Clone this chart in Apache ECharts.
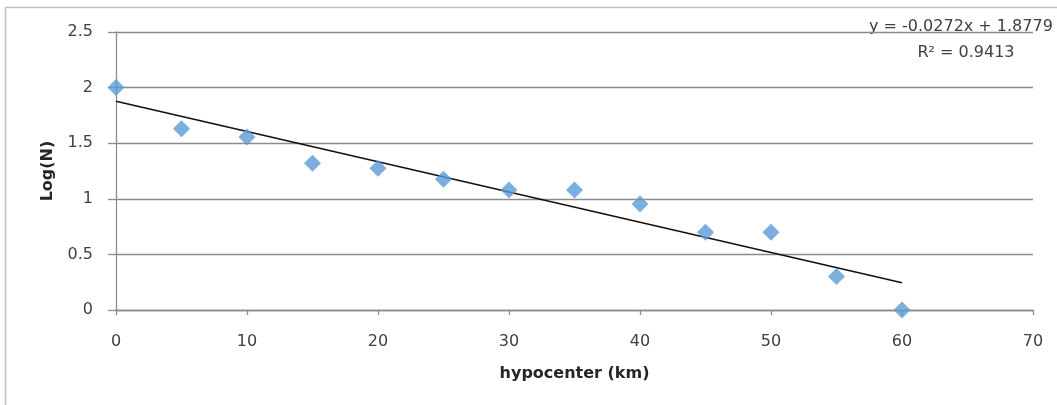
<!DOCTYPE html>
<html>
<head>
<meta charset="utf-8">
<script src="https://cdn.jsdelivr.net/npm/echarts@6/dist/echarts.min.js"></script>
<style>
html,body{margin:0;padding:0;background:#fff;}
#c{width:1057px;height:405px;}
</style>
</head>
<body>
<div id="c"></div>
<script>
// Data
var depthKm = [0, 5, 10, 15, 20, 25, 30, 35, 40, 45, 50, 55, 60];
var logN = [2.0, 1.63, 1.556, 1.32, 1.275, 1.176, 1.079, 1.079, 0.954, 0.699, 0.699, 0.301, 0];
var trendSlope = -0.0272;
var trendIntercept = 1.8779;
var trendR2 = 0.9413;
var trendRange = [0, 60];
var xTicks = [0, 10, 20, 30, 40, 50, 60, 70];
var yTicks = [0, 0.5, 1, 1.5, 2, 2.5];

var font = '"DejaVu Sans", Verdana, sans-serif';
var chart = echarts.init(document.getElementById('c'), null, {renderer: 'canvas'});

var pts = depthKm.map(function (x, i) { return [x, logN[i]]; });
var trend = trendRange.map(function (x) { return [x, trendIntercept + trendSlope * x]; });

var eqText = 'y = ' + trendSlope.toFixed(4) + 'x + ' + trendIntercept.toFixed(4);
var r2Text = 'R² = ' + trendR2.toFixed(4);

chart.setOption({
  animation: false,
  backgroundColor: '#fff',
  grid: {left: 116, right: 24, top: 32, bottom: 95},
  xAxis: {
    type: 'value', min: xTicks[0], max: xTicks[xTicks.length - 1], interval: xTicks[1] - xTicks[0],
    name: 'hypocenter (km)', nameLocation: 'middle', nameGap: 56,
    nameTextStyle: {fontFamily: font, fontSize: 16, fontWeight: 'bold', color: '#262626'},
    axisLine: {show: true, onZero: false, lineStyle: {color: '#8c8c8c', width: 1.3}},
    axisTick: {show: true, length: 5, lineStyle: {color: '#8c8c8c', width: 1.3}},
    axisLabel: {fontFamily: font, fontSize: 16, color: '#404040', margin: 24},
    splitLine: {show: false}
  },
  yAxis: {
    type: 'value', min: yTicks[0], max: yTicks[yTicks.length - 1], interval: yTicks[1] - yTicks[0],
    name: 'Log(N)', nameLocation: 'middle', nameGap: 60,
    nameTextStyle: {fontFamily: font, fontSize: 16, fontWeight: 'bold', color: '#262626'},
    axisLine: {show: true, lineStyle: {color: '#8c8c8c', width: 1.3}},
    axisTick: {show: true, length: 8, lineStyle: {color: '#8c8c8c', width: 1.3}},
    axisLabel: {fontFamily: font, fontSize: 16, color: '#404040', margin: 23,
      formatter: function (v) { return String(v); }},
    splitLine: {show: true, lineStyle: {color: '#8c8c8c', width: 1.3}}
  },
  series: [
    {
      type: 'line', data: trend, symbol: 'none', silent: true,
      lineStyle: {color: '#111', width: 1.6}, z: 2
    },
    {
      type: 'scatter', data: pts, symbol: 'diamond', symbolSize: [17, 17],
      itemStyle: {color: '#5b9bd5'}, z: 3
    }
  ],
  graphic: [
    {type: 'rect', shape: {x: 5.5, y: 7.5, width: 1200, height: 600},
      style: {fill: 'none', stroke: '#bfbfbf', lineWidth: 1.5}, silent: true, z: -1},
    {type: 'text', x: 869, y: 27, style: {text: eqText, fontFamily: font, fontSize: 16,
      fill: '#404040', textAlign: 'left', textVerticalAlign: 'middle'}},
    {type: 'text', x: 966, y: 53, style: {text: r2Text, fontFamily: font, fontSize: 16,
      fill: '#404040', textAlign: 'center', textVerticalAlign: 'middle'}}
  ]
});
</script>
</body>
</html>
